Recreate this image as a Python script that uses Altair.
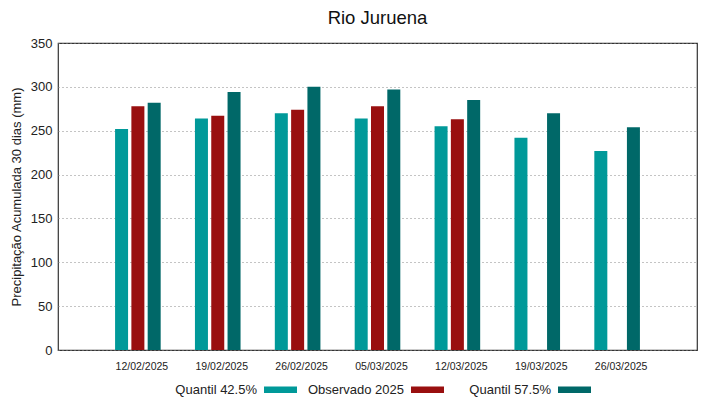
import altair as alt
import pandas as pd

dates = ["12/02/2025", "19/02/2025", "26/02/2025", "05/03/2025", "12/03/2025", "19/03/2025", "26/03/2025"]
series = ["Quantil 42.5%", "Observado 2025", "Quantil 57.5%"]
q425 = [252, 264, 270, 264, 255, 242, 227]
obs = [278, 267, 274, 278, 263, None, None]
q575 = [282, 294, 300, 297, 285, 270, 254]
colors = ["#009999", "#990f0f", "#006868"]

rows = []
for i, d in enumerate(dates):
    for s, vals in zip(series, [q425, obs, q575]):
        if vals[i] is not None:
            rows.append({"date": d, "serie": s, "value": vals[i]})
df = pd.DataFrame(rows)

font = "Liberation Sans"

bars = alt.Chart(df).mark_bar(size=13).encode(
    x=alt.X("date:N", sort=dates, title=None,
            scale=alt.Scale(paddingInner=0, paddingOuter=0.5),
            axis=alt.Axis(labelAngle=0, ticks=False, domain=False, labelFontSize=10.5,
                          labelFont=font, labelColor="#222", labelPadding=11, labelOffset=4)),
    xOffset=alt.XOffset("serie:N", sort=series,
                        scale=alt.Scale(paddingInner=0.1, paddingOuter=1)),
    y=alt.Y("value:Q", title="Precipitação Acumulada 30 dias (mm)",
            scale=alt.Scale(domain=[0, 350], nice=False),
            axis=alt.Axis(values=list(range(0, 351, 50)), ticks=False, domain=False,
                          gridDash=[1, 3], gridColor="#888", gridOpacity=1,
                          labelFontSize=13, labelFont=font, labelColor="#222",
                          labelPadding=6, titleFontSize=13, titleFont=font,
                          titleFontWeight="normal", titleColor="#222", titlePadding=7)),
    color=alt.Color("serie:N", sort=series,
                    scale=alt.Scale(domain=series, range=colors),
                    legend=alt.Legend(title=None, orient="none", direction="horizontal",
                                      legendX=206, legendY=330, gridAlign="all",
                                      symbolType="M-1,-0.19L1,-0.19L1,0.19L-1,0.19Z",
                                      symbolSize=1089, symbolStrokeWidth=0, symbolOpacity=1,
                                      labelAlign="right", labelOffset={"expr": "-40"},
                                      labelFontSize=13, labelFont=font, labelColor="#222",
                                      columnPadding=10, labelLimit=200)),
)

chart = bars.properties(
    width=639, height=307,
    title=alt.TitleParams("Rio Juruena", fontSize=18.5, font=font, fontWeight="normal",
                          color="#111", offset=10),
    padding={"left": 2, "top": 0, "right": 14, "bottom": 40},
).configure_view(stroke="#333", strokeWidth=1.2)

chart.save("out.html", embed_options={"renderer": "svg", "actions": False})
